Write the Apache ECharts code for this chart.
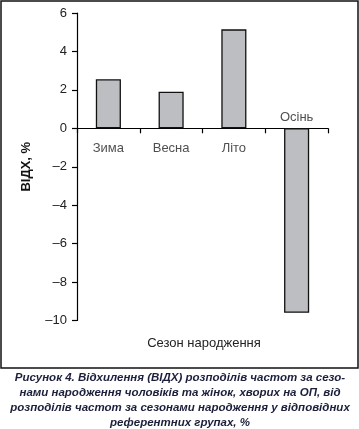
<!DOCTYPE html>
<html><head><meta charset="utf-8">
<script src="https://cdn.jsdelivr.net/npm/echarts@6/dist/echarts.min.js"></script>
<style>html,body{margin:0;padding:0;background:#fff}#c{width:359px;height:429px}</style>
</head><body><div id="c"></div>
<script>
const categories = ['Зима', 'Весна', 'Літо', 'Осінь'];
const values = [2.55, 1.9, 5.15, -9.6];
const yAxisName = 'ВІДХ, %';
const xAxisName = 'Сезон народження';
const captionLines = [
  'Рисунок 4. Відхилення (ВІДХ) розподілів частот за сезо-',
  'нами народження чоловіків та жінок, хворих на ОП, від',
  'розподілів частот за сезонами народження у відповідних',
  'референтних групах, %'
];

const chart = echarts.init(document.getElementById('c'), null, {renderer: 'canvas'});
const F = '"Liberation Sans", Arial, sans-serif';
chart.setOption({
  animation: false,
  grid: {left: 77, right: 31, top: 13, bottom: 108.5},
  xAxis: {
    type: 'category', data: categories,
    axisLine: {onZero: true, lineStyle: {color: '#000', width: 1.2}},
    axisTick: {show: true, length: 5, inside: false, lineStyle: {color: '#000', width: 1.2}},
    axisLabel: {show: false},
    splitLine: {show: false}
  },
  yAxis: {
    type: 'value', min: -10, max: 6, interval: 2,
    name: yAxisName, nameLocation: 'middle', nameGap: 44, nameRotate: 90,
    nameTextStyle: {fontFamily: F, fontSize: 13, fontWeight: 'bold', color: '#111'},
    axisLine: {show: true, lineStyle: {color: '#000', width: 1.2}},
    axisTick: {show: true, length: 5, lineStyle: {color: '#000', width: 1.2}},
    axisLabel: {margin: 10, fontFamily: F, fontSize: 13, color: '#222',
      formatter: v => String(v).replace('-', '–')},
    splitLine: {show: false}
  },
  series: [
    {
      type: 'bar', data: values, barWidth: '40%',
      itemStyle: {color: '#bdbec1', borderColor: '#111', borderWidth: 1.3}
    },
    {
      type: 'scatter', symbolSize: 0, silent: true,
      data: categories.map((c, i) => ({
        value: [c, 0],
        label: {show: true, formatter: c,
          position: values[i] < 0 ? 'top' : 'bottom',
          distance: values[i] < 0 ? 4 : 14}
      })),
      label: {fontFamily: F, fontSize: 13, color: '#222'}
    }
  ],
  graphic: [
    {type: 'rect', shape: {x: 1, y: 1, width: 357, height: 367},
      style: {fill: 'none', stroke: '#111', lineWidth: 1.5}, silent: true},
    {type: 'text', x: 204, y: 343,
      style: {text: xAxisName, fontFamily: F, fontSize: 13, fill: '#222',
        textAlign: 'center', textVerticalAlign: 'middle'}},
    {type: 'text', x: 180, y: 370,
      style: {text: captionLines.join('\n'), fontFamily: F, fontSize: 11.5,
        fontWeight: 'bold', fontStyle: 'italic', fill: '#1b1f3b',
        textAlign: 'center', lineHeight: 15}}
  ]
});
</script></body></html>
